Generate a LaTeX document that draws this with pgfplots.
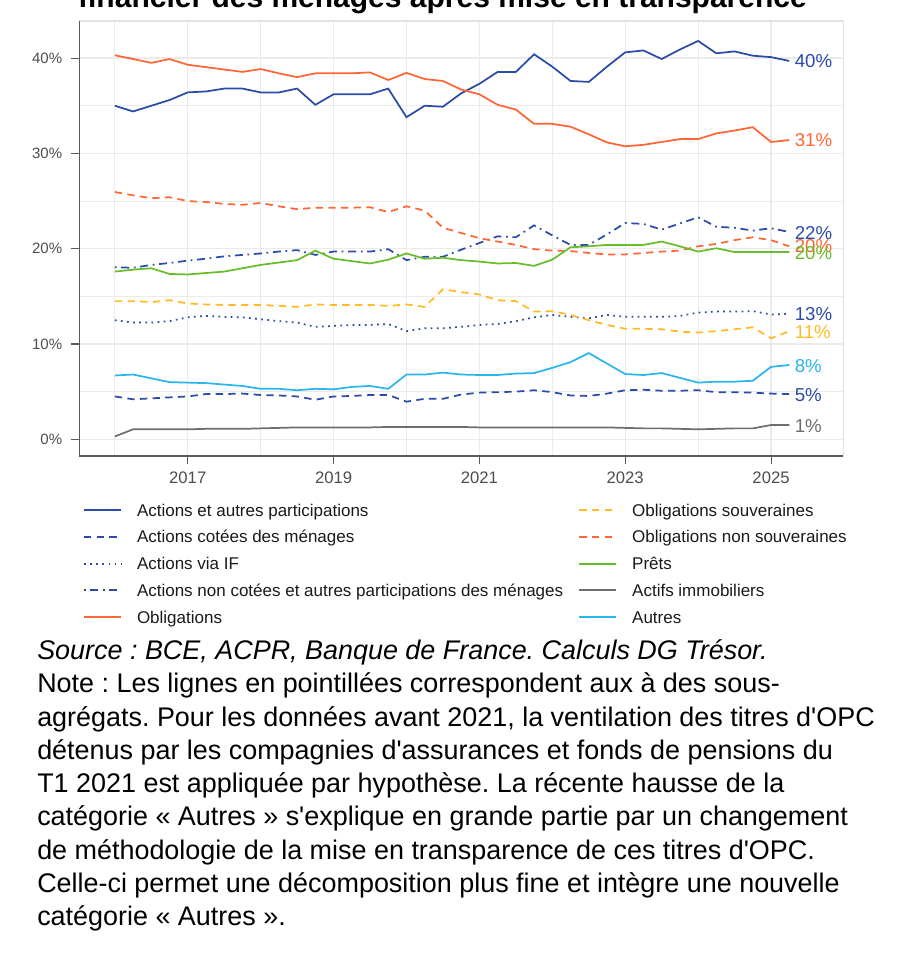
\documentclass[border=0pt]{standalone}
\usepackage{fontspec}
\setmainfont{Liberation Sans}
\usepackage{pgfplots}
\usepackage{pgfplotstable}
\pgfplotsset{compat=1.18}

\definecolor{cBlue}{HTML}{2A4CA8}
\definecolor{cOrange}{HTML}{FF6633}
\definecolor{cYellow}{HTML}{FFBA26}
\definecolor{cGreen}{HTML}{6ABD2A}
\definecolor{cGray}{HTML}{6E6E6E}
\definecolor{cSky}{HTML}{2BB5EF}
\definecolor{gridc}{HTML}{EBEBEB}
\definecolor{framec}{HTML}{E3E3E3}
\definecolor{axc}{HTML}{5A5A5A}
\definecolor{tickc}{HTML}{4D4D4D}
\definecolor{legc}{HTML}{1A1A1A}

% quarterly shares, % of the household financial portfolio
\pgfplotstableread{
t       aap    obl    ons    os     prets  anc    aif    autres acm   immo
2016.00 35.0   40.3   25.95  14.5   17.6   18.05  12.5   6.7    4.5   0.3
2016.25 34.4   39.9   25.6   14.5   17.8   18.0   12.25  6.8    4.2   1.05
2016.50 35.0   39.5   25.3   14.4   17.95  18.3   12.25  6.4    4.3   1.05
2016.75 35.6   39.9   25.4   14.6   17.35  18.5   12.4   6.0    4.4   1.05
2017.00 36.4   39.3   25.0   14.25  17.3   18.75  12.8   5.95   4.5   1.05
2017.25 36.5   39.05  24.9   14.15  17.45  18.95  12.95  5.9    4.75  1.1
2017.50 36.8   38.8   24.7   14.1   17.6   19.2   12.85  5.75   4.75  1.1
2017.75 36.8   38.55  24.6   14.1   17.95  19.35  12.8   5.6    4.8   1.1
2018.00 36.4   38.85  24.8   14.1   18.3   19.5   12.6   5.3    4.65  1.15
2018.25 36.4   38.4   24.45  14.0   18.55  19.7   12.4   5.3    4.6   1.2
2018.50 36.8   38.0   24.15  13.9   18.8   19.85  12.25  5.15   4.5   1.25
2018.75 35.1   38.4   24.3   14.15  19.8   19.35  11.8   5.3    4.15  1.25
2019.00 36.2   38.4   24.3   14.1   18.95  19.7   11.9   5.25   4.5   1.25
2019.25 36.2   38.4   24.3   14.1   18.7   19.7   12.0   5.5    4.55  1.25
2019.50 36.2   38.5   24.35  14.1   18.45  19.7   12.0   5.6    4.65  1.25
2019.75 36.8   37.7   23.85  14.0   18.85  19.95  12.1   5.3    4.65  1.3
2020.00 33.8   38.45  24.45  14.15  19.5   18.8   11.35  6.8    3.95  1.3
2020.25 35.0   37.8   24.0   13.9   18.95  19.15  11.65  6.8    4.25  1.3
2020.50 34.9   37.6   22.2   15.75  19.05  19.15  11.65  7.0    4.25  1.3
2020.75 36.3   36.7   21.65  15.45  18.8   19.9   11.8   6.8    4.7   1.3
2021.00 37.3   36.2   21.1   15.2   18.65  20.6   12.0   6.75   4.9   1.25
2021.25 38.55  35.1   20.75  14.6   18.45  21.3   12.1   6.75   4.95  1.25
2021.50 38.55  34.6   20.4   14.5   18.5   21.2   12.4   6.9    5.0   1.25
2021.75 40.4   33.1   19.95  13.4   18.2   22.45  12.8   6.95   5.15  1.25
2022.00 39.1   33.1   19.8   13.45  18.85  21.4   13.05  7.5    4.95  1.25
2022.25 37.6   32.8   19.75  13.05  20.15  20.4   12.85  8.1    4.6   1.25
2022.50 37.5   32.0   19.55  12.5   20.25  20.4   12.7   9.05   4.55  1.25
2022.75 39.1   31.15  19.4   12.0   20.4   21.5   13.05  7.95   4.8   1.25
2023.00 40.6   30.75  19.4   11.6   20.4   22.7   12.85  6.85   5.15  1.2
2023.25 40.8   30.9   19.55  11.6   20.4   22.6   12.85  6.75   5.2   1.15
2023.50 39.9   31.2   19.7   11.55  20.75  22.0   12.85  6.95   5.1   1.15
2023.75 40.9   31.5   19.8   11.3   20.25  22.65  12.95  6.45   5.1   1.1
2024.00 41.8   31.5   20.25  11.2   19.7   23.3   13.3   5.95   5.15  1.05
2024.25 40.5   32.1   20.5   11.35  20.05  22.3   13.4   6.05   4.95  1.1
2024.50 40.7   32.4   20.9   11.55  19.65  22.2   13.4   6.05   4.95  1.15
2024.75 40.25  32.75  21.2   11.75  19.65  21.9   13.45  6.15   4.9   1.15
2025.00 40.1   31.2   20.9   10.6   19.65  22.15  13.1   7.6    4.8   1.5
2025.25 39.7   31.4   20.25  11.35  19.65  21.75  13.15  7.8    4.75  1.5
}\shares

\tikzset{
  dashS/.style={dash pattern=on 5.5pt off 4pt},
  dotS/.style={dash pattern=on 1.3pt off 3.3pt},
  dashdotS/.style={dash pattern=on 1.3pt off 3.5pt on 6pt off 3.5pt},
  endlab/.style={anchor=west, inner sep=0pt, xshift=4pt, font=\fontsize{14}{16}\selectfont},
}

\begin{document}
\frenchspacing
\begin{tikzpicture}
\begin{axis}[
  at={(59.5pt,-342pt)}, anchor=south west,
  scale only axis, width=572.8pt, height=326.25pt,
  xmin=2015.513, xmax=2025.988, ymin=-1.75, ymax=43.89,
  clip=false,
  xtick={2017,2019,2021,2023,2025},
  minor xtick={2016,2018,2020,2022,2024},
  ytick={0,10,20,30,40},
  minor ytick={5,15,25,35},
  yticklabel={\pgfmathprintnumber{\tick}\%},
  grid=both,
  major grid style={draw=gridc, line width=0.9pt},
  minor grid style={draw=gridc, line width=0.6pt},
  tick align=outside, xtick pos=bottom, ytick pos=left,
  major tick length=6.2pt, minor tick length=0pt,
  tick style={draw=axc, line width=0.8pt},
  axis line style={draw=framec, line width=0.8pt},
  /pgf/number format/assume math mode=true,
  /pgf/number format/1000 sep={},
  x tick label style={font=\fontsize{12.5}{14}\selectfont, text=tickc,
    anchor=north, inner sep=0pt, yshift=-5.6pt},
  y tick label style={font=\fontsize{11.25}{13}\selectfont, text=tickc,
    anchor=east, inner sep=0pt, xshift=-6.5pt},
  every axis plot/.append style={line width=1.3pt, forget plot},
  legend columns=2,
  legend cell align=left,
  legend style={
    at={(0,0)}, anchor=north west, xshift=2.75pt, yshift=-35.1pt,
    draw=none, fill=none, inner sep=0pt, outer sep=0pt,
    row sep=7.06pt, column sep=11.25pt,
    font=\fontsize{12.75}{15}\selectfont, text=legc,
    nodes={inner sep=0pt, outer sep=0pt, text height=10pt, text depth=3pt},
  },
  legend image code/.code={
    \draw[#1, line width=1.5pt] (0pt,1.1pt) -- (27.75pt,1.1pt);
  },
]
  \addplot[cBlue] table[x=t, y=aap] {\shares};
  \addplot[cBlue, dashS] table[x=t, y=acm] {\shares};
  \addplot[cBlue, dotS] table[x=t, y=aif] {\shares};
  \addplot[cBlue, dashdotS] table[x=t, y=anc] {\shares};
  \addplot[cOrange] table[x=t, y=obl] {\shares};
  \addplot[cYellow, dashS] table[x=t, y=os] {\shares};
  \addplot[cOrange, dashS] table[x=t, y=ons] {\shares};
  \addplot[cGreen] table[x=t, y=prets] {\shares};
  \addplot[cGray] table[x=t, y=immo] {\shares};
  \addplot[cSky] table[x=t, y=autres] {\shares};

  % legend filled row by row: left column, then right column
  \addlegendimage{cBlue}
  \addlegendentry{Actions et autres participations}
  \addlegendimage{cYellow, dashS}
  \addlegendentry{Obligations souveraines}
  \addlegendimage{cBlue, dashS}
  \addlegendentry{Actions cotées des ménages}
  \addlegendimage{cOrange, dashS}
  \addlegendentry{Obligations non souveraines}
  \addlegendimage{cBlue, dotS}
  \addlegendentry{Actions via IF}
  \addlegendimage{cGreen}
  \addlegendentry{Prêts}
  \addlegendimage{cBlue, dashdotS}
  \addlegendentry{Actions non cotées et autres participations des ménages}
  \addlegendimage{cGray}
  \addlegendentry{Actifs immobiliers}
  \addlegendimage{cOrange}
  \addlegendentry{Obligations}
  \addlegendimage{cSky}
  \addlegendentry{Autres}

  % end-of-line labels
  \node[endlab, text=cBlue] at (axis cs:2025.25,39.7) {40\%};
  \node[endlab, text=cOrange] at (axis cs:2025.25,31.4) {31\%};
  \node[endlab, text=cBlue] at (axis cs:2025.25,21.6) {22\%};
  \node[endlab, text=cOrange] at (axis cs:2025.25,20.25) {20\%};
  \node[endlab, text=cGreen] at (axis cs:2025.25,19.5) {20\%};
  \node[endlab, text=cBlue] at (axis cs:2025.25,13.1) {13\%};
  \node[endlab, text=cYellow] at (axis cs:2025.25,11.3) {11\%};
  \node[endlab, text=cSky] at (axis cs:2025.25,7.7) {8\%};
  \node[endlab, text=cBlue] at (axis cs:2025.25,4.65) {5\%};
  \node[endlab, text=cGray] at (axis cs:2025.25,1.4) {1\%};

  \draw[axc, line width=0.8pt] (rel axis cs:0,1) -- (rel axis cs:0,0) -- (rel axis cs:1,0);
\end{axis}

\begin{scope}[x=0.75pt, y=-0.75pt]
  \node[anchor=base, inner sep=0pt, font=\bfseries\fontsize{22.5}{27}\selectfont]
    at (442.5,7) {financier des ménages après mise en transparence};
  \begin{scope}[every node/.style={anchor=base west, inner sep=0pt,
      font=\fontsize{20.2}{24}\selectfont}]
    \node at (37,659.6) {\itshape Source : BCE, ACPR, Banque de France. Calculs DG Trésor.};
    \node at (37,692.85) {Note : Les lignes en pointillées correspondent aux à des sous-};
    \node at (37,726.1) {agrégats. Pour les données avant 2021, la ventilation des titres d\textquotesingle OPC};
    \node at (37,759.35) {détenus par les compagnies d\textquotesingle assurances et fonds de pensions du};
    \node at (37,792.6) {T1 2021 est appliquée par hypothèse. La récente hausse de la};
    \node at (37,825.85) {catégorie « Autres » s\textquotesingle explique en grande partie par un changement};
    \node at (37,859.1) {de méthodologie de la mise en transparence de ces titres d\textquotesingle OPC.};
    \node at (37,892.35) {Celle-ci permet une décomposition plus fine et intègre une nouvelle};
    \node at (37,925.6) {catégorie « Autres ».};
  \end{scope}
\end{scope}

\pgfresetboundingbox
\path (0pt,0pt) rectangle (690pt,-732pt);
\end{tikzpicture}
\end{document}
